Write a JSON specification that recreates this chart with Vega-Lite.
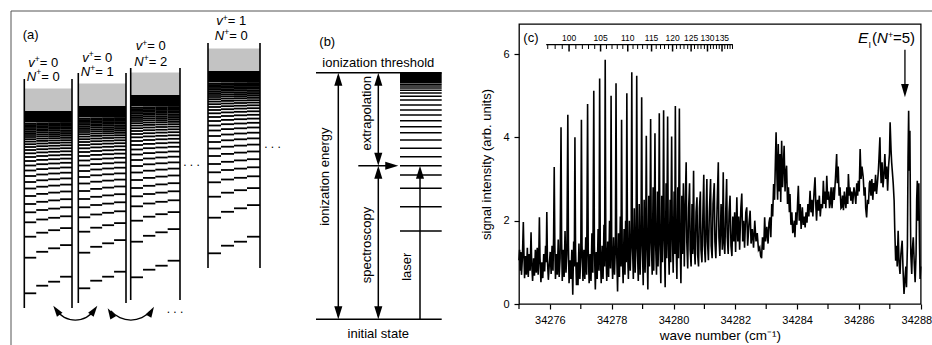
{
"$schema":"https://vega.github.io/schema/vega-lite/v6.json",
"padding":0,"background":"white","spacing":0,"bounds":"flush",
"config":{"view":{"stroke":null},"font":"Liberation Sans","text":{"font":"Liberation Sans","color":"black"}},
"datasets":{
"spec":[{"w":34275,"s":1.05},{"w":34275.02,"s":1.3},{"w":34275.04,"s":0.8},{"w":34275.06,"s":1.25},{"w":34275.08,"s":0.7},{"w":34275.11,"s":1.1},{"w":34275.14,"s":1.97},{"w":34275.16,"s":1.2},{"w":34275.18,"s":0.62},{"w":34275.21,"s":1.15},{"w":34275.24,"s":0.7},{"w":34275.27,"s":1.35},{"w":34275.3,"s":0.65},{"w":34275.33,"s":1.2},{"w":34275.36,"s":0.8},{"w":34275.39,"s":1.72},{"w":34275.41,"s":1},{"w":34275.44,"s":0.55},{"w":34275.47,"s":1.1},{"w":34275.5,"s":0.68},{"w":34275.53,"s":1.3},{"w":34275.56,"s":0.75},{"w":34275.59,"s":1.35},{"w":34275.62,"s":0.7},{"w":34275.64,"s":1.1},{"w":34275.66,"s":2.08},{"w":34275.68,"s":1.1},{"w":34275.71,"s":0.52},{"w":34275.74,"s":1},{"w":34275.77,"s":0.62},{"w":34275.8,"s":1.2},{"w":34275.83,"s":0.78},{"w":34275.86,"s":1.4},{"w":34275.88,"s":1},{"w":34275.9,"s":2.21},{"w":34275.92,"s":1.05},{"w":34275.95,"s":0.58},{"w":34275.98,"s":0.95},
{"w":34276.01,"s":1.25},{"w":34276.04,"s":0.72},{"w":34276.07,"s":1.4},{"w":34276.1,"s":0.8},{"w":34276.12,"s":1.6},{"w":34276.14,"s":3.29},{"w":34276.16,"s":1.4},{"w":34276.18,"s":0.6},{"w":34276.21,"s":1.2},{"w":34276.24,"s":0.7},{"w":34276.27,"s":1.55},{"w":34276.3,"s":0.65},{"w":34276.33,"s":1.1},{"w":34276.36,"s":4.24},{"w":34276.38,"s":1.5},{"w":34276.4,"s":0.55},{"w":34276.43,"s":1.3},{"w":34276.46,"s":0.65},{"w":34276.49,"s":1.75},{"w":34276.52,"s":0.75},{"w":34276.55,"s":1.2},{"w":34276.58,"s":4.54},{"w":34276.6,"s":1.4},{"w":34276.62,"s":0.5},{"w":34276.65,"s":1.05},{"w":34276.68,"s":0.6},{"w":34276.71,"s":1.3},{"w":34276.74,"s":0.22},{"w":34276.77,"s":1.5},{"w":34276.79,"s":0.9},{"w":34276.81,"s":4},{"w":34276.83,"s":1.3},{"w":34276.86,"s":0.45},{"w":34276.88,"s":1},{"w":34276.91,"s":0.45},{"w":34276.94,"s":1.45},{"w":34276.97,"s":0.6},
{"w":34277,"s":1.15},{"w":34277.02,"s":4.42},{"w":34277.04,"s":1.4},{"w":34277.07,"s":0.55},{"w":34277.1,"s":1.3},{"w":34277.13,"s":0.6},{"w":34277.16,"s":1.6},{"w":34277.19,"s":0.7},{"w":34277.22,"s":4.8},{"w":34277.24,"s":1.3},{"w":34277.27,"s":0.5},{"w":34277.3,"s":1.2},{"w":34277.33,"s":0.55},{"w":34277.36,"s":1.7},{"w":34277.39,"s":0.75},{"w":34277.42,"s":5.12},{"w":34277.44,"s":1.4},{"w":34277.47,"s":0.35},{"w":34277.5,"s":1.25},{"w":34277.53,"s":0.6},{"w":34277.56,"s":1.8},{"w":34277.59,"s":0.8},{"w":34277.61,"s":5.41},{"w":34277.63,"s":1.3},{"w":34277.66,"s":0.5},{"w":34277.69,"s":1.4},{"w":34277.72,"s":0.6},{"w":34277.75,"s":1.9},{"w":34277.77,"s":0.9},{"w":34277.79,"s":5.86},{"w":34277.81,"s":1.4},{"w":34277.84,"s":0.55},{"w":34277.87,"s":1.5},{"w":34277.9,"s":0.65},{"w":34277.93,"s":2},{"w":34277.96,"s":0.85},{"w":34277.98,"s":5},
{"w":34278,"s":1.4},{"w":34278.03,"s":0.6},{"w":34278.06,"s":1.6},{"w":34278.09,"s":0.7},{"w":34278.12,"s":1.4},{"w":34278.14,"s":5.3},{"w":34278.16,"s":1.3},{"w":34278.19,"s":0.3},{"w":34278.22,"s":1.7},{"w":34278.25,"s":0.65},{"w":34278.28,"s":2.1},{"w":34278.3,"s":0.9},{"w":34278.32,"s":4.42},{"w":34278.34,"s":1.3},{"w":34278.37,"s":0.5},{"w":34278.4,"s":1.8},{"w":34278.43,"s":0.7},{"w":34278.45,"s":2},{"w":34278.47,"s":1},{"w":34278.49,"s":5.06},{"w":34278.51,"s":1.4},{"w":34278.54,"s":0.6},{"w":34278.57,"s":2},{"w":34278.6,"s":0.8},{"w":34278.63,"s":1.5},{"w":34278.65,"s":5.56},{"w":34278.67,"s":1.5},{"w":34278.7,"s":0.6},{"w":34278.73,"s":2.3},{"w":34278.76,"s":0.75},{"w":34278.79,"s":1.6},{"w":34278.81,"s":5.48},{"w":34278.83,"s":1.4},{"w":34278.86,"s":0.55},{"w":34278.89,"s":2.4},{"w":34278.92,"s":0.7},{"w":34278.95,"s":1.7},{"w":34278.97,"s":4.96},{"w":34278.99,"s":1.5},
{"w":34279.02,"s":0.45},{"w":34279.05,"s":2.5},{"w":34279.08,"s":0.75},{"w":34279.1,"s":1.6},{"w":34279.12,"s":4.04},{"w":34279.14,"s":1.5},{"w":34279.17,"s":0.35},{"w":34279.2,"s":2.6},{"w":34279.22,"s":0.9},{"w":34279.24,"s":1.8},{"w":34279.26,"s":4.44},{"w":34279.28,"s":1.6},{"w":34279.31,"s":0.7},{"w":34279.34,"s":2.8},{"w":34279.36,"s":0.8},{"w":34279.38,"s":1.9},{"w":34279.4,"s":4.1},{"w":34279.42,"s":1.5},{"w":34279.45,"s":0.7},{"w":34279.48,"s":2.7},{"w":34279.5,"s":0.9},{"w":34279.52,"s":1.7},{"w":34279.54,"s":4.58},{"w":34279.56,"s":1.6},{"w":34279.59,"s":0.5},{"w":34279.62,"s":2.6},{"w":34279.64,"s":1},{"w":34279.66,"s":1.9},{"w":34279.68,"s":4.65},{"w":34279.7,"s":1.7},{"w":34279.73,"s":0.4},{"w":34279.76,"s":2.9},{"w":34279.78,"s":1.1},{"w":34279.81,"s":4.5},{"w":34279.83,"s":1.6},{"w":34279.86,"s":0.7},{"w":34279.89,"s":2.5},{"w":34279.91,"s":1},{"w":34279.94,"s":4.02},{"w":34279.96,"s":1.8},{"w":34279.99,"s":0.75},
{"w":34280.02,"s":2.7},{"w":34280.04,"s":1.2},{"w":34280.06,"s":4.75},{"w":34280.08,"s":1.6},{"w":34280.11,"s":0.6},{"w":34280.14,"s":2.8},{"w":34280.16,"s":1.1},{"w":34280.19,"s":4.69},{"w":34280.21,"s":1.7},{"w":34280.24,"s":0.5},{"w":34280.27,"s":2.6},{"w":34280.29,"s":1.2},{"w":34280.32,"s":2.9},{"w":34280.35,"s":0.9},{"w":34280.38,"s":2.4},{"w":34280.41,"s":3.4},{"w":34280.43,"s":1.5},{"w":34280.46,"s":0.85},{"w":34280.49,"s":2.3},{"w":34280.52,"s":2.9},{"w":34280.54,"s":1.3},{"w":34280.57,"s":0.9},{"w":34280.6,"s":2.4},{"w":34280.62,"s":1.2},{"w":34280.65,"s":3.2},{"w":34280.67,"s":1.4},{"w":34280.7,"s":0.95},{"w":34280.73,"s":2.2},{"w":34280.76,"s":2.56},{"w":34280.78,"s":1.2},{"w":34280.81,"s":0.9},{"w":34280.84,"s":2.3},{"w":34280.87,"s":2.7},{"w":34280.89,"s":1.3},{"w":34280.92,"s":1},{"w":34280.95,"s":2.1},{"w":34280.98,"s":3.1},
{"w":34281,"s":1.4},{"w":34281.03,"s":1},{"w":34281.06,"s":2.3},{"w":34281.08,"s":3},{"w":34281.1,"s":1.5},{"w":34281.13,"s":1.05},{"w":34281.16,"s":2.2},{"w":34281.2,"s":3},{"w":34281.22,"s":1.4},{"w":34281.25,"s":1.1},{"w":34281.28,"s":2.4},{"w":34281.32,"s":2.9},{"w":34281.34,"s":1.5},{"w":34281.37,"s":1.1},{"w":34281.41,"s":2.3},{"w":34281.45,"s":3.4},{"w":34281.47,"s":1.6},{"w":34281.5,"s":1.15},{"w":34281.54,"s":2.4},{"w":34281.58,"s":1.3},{"w":34281.61,"s":3.16},{"w":34281.63,"s":1.5},{"w":34281.66,"s":1.2},{"w":34281.69,"s":2.2},{"w":34281.72,"s":3},{"w":34281.74,"s":1.6},{"w":34281.77,"s":1.2},{"w":34281.8,"s":2.2},{"w":34281.83,"s":2.6},{"w":34281.86,"s":1.4},{"w":34281.89,"s":1.15},{"w":34281.92,"s":2.1},{"w":34281.95,"s":1.5},{"w":34281.98,"s":2.2},
{"w":34282.01,"s":1.25},{"w":34282.05,"s":2.56},{"w":34282.08,"s":1.5},{"w":34282.11,"s":2.1},{"w":34282.14,"s":1.3},{"w":34282.18,"s":2.3},{"w":34282.21,"s":2.65},{"w":34282.24,"s":1.5},{"w":34282.27,"s":2},{"w":34282.3,"s":1.35},{"w":34282.34,"s":2.2},{"w":34282.37,"s":2.32},{"w":34282.4,"s":1.4},{"w":34282.44,"s":1.9},{"w":34282.48,"s":2.24},{"w":34282.51,"s":1.45},{"w":34282.55,"s":1.8},{"w":34282.59,"s":1.35},{"w":34282.63,"s":2},{"w":34282.67,"s":1.5},{"w":34282.71,"s":1.7},{"w":34282.75,"s":1.3},{"w":34282.79,"s":1.36},{"w":34282.82,"s":1.15},{"w":34282.85,"s":1.1},{"w":34282.88,"s":1.6},{"w":34282.92,"s":1.3},{"w":34282.95,"s":2.08},{"w":34282.98,"s":1.5},
{"w":34283.02,"s":1.85},{"w":34283.06,"s":1.45},{"w":34283.09,"s":1.95},{"w":34283.12,"s":2.08},{"w":34283.15,"s":1.6},{"w":34283.18,"s":2.4},{"w":34283.21,"s":2.1},{"w":34283.24,"s":2.88},{"w":34283.27,"s":2.5},{"w":34283.3,"s":3.5},{"w":34283.32,"s":4.12},{"w":34283.35,"s":3},{"w":34283.37,"s":2.5},{"w":34283.39,"s":3.84},{"w":34283.42,"s":2.7},{"w":34283.45,"s":3.6},{"w":34283.47,"s":2.45},{"w":34283.5,"s":3.92},{"w":34283.53,"s":2.8},{"w":34283.56,"s":3.4},{"w":34283.58,"s":3.8},{"w":34283.61,"s":2.7},{"w":34283.63,"s":3.1},{"w":34283.66,"s":3.32},{"w":34283.69,"s":2.4},{"w":34283.72,"s":2.8},{"w":34283.75,"s":2.2},{"w":34283.77,"s":2.64},{"w":34283.8,"s":1.9},{"w":34283.83,"s":2.2},{"w":34283.86,"s":1.7},{"w":34283.88,"s":1.76},{"w":34283.91,"s":2},{"w":34283.93,"s":1.6},{"w":34283.96,"s":2.2},{"w":34283.99,"s":1.9},
{"w":34284.02,"s":2.5},{"w":34284.04,"s":2.84},{"w":34284.07,"s":2},{"w":34284.1,"s":2.4},{"w":34284.13,"s":1.8},{"w":34284.17,"s":2.32},{"w":34284.2,"s":1.9},{"w":34284.23,"s":2.1},{"w":34284.26,"s":1.84},{"w":34284.29,"s":2.2},{"w":34284.32,"s":1.95},{"w":34284.35,"s":2.4},{"w":34284.38,"s":2.1},{"w":34284.42,"s":2.72},{"w":34284.45,"s":2.2},{"w":34284.48,"s":2.5},{"w":34284.51,"s":2.1},{"w":34284.55,"s":2.7},{"w":34284.58,"s":3.04},{"w":34284.61,"s":2.3},{"w":34284.63,"s":2},{"w":34284.66,"s":2.5},{"w":34284.69,"s":2.24},{"w":34284.72,"s":2.6},{"w":34284.75,"s":2.1},{"w":34284.78,"s":2.4},{"w":34284.82,"s":2.3},{"w":34284.85,"s":2.96},{"w":34284.88,"s":2.4},{"w":34284.91,"s":2.7},{"w":34284.93,"s":2.3},{"w":34284.96,"s":3.08},{"w":34284.99,"s":2.5},
{"w":34285.02,"s":2.7},{"w":34285.05,"s":2.3},{"w":34285.07,"s":2.4},{"w":34285.1,"s":2.8},{"w":34285.13,"s":2.3},{"w":34285.17,"s":2.8},{"w":34285.2,"s":2.5},{"w":34285.24,"s":3},{"w":34285.28,"s":3.6},{"w":34285.3,"s":2.9},{"w":34285.33,"s":3.3},{"w":34285.36,"s":2.6},{"w":34285.39,"s":2.8},{"w":34285.42,"s":2.3},{"w":34285.44,"s":2.32},{"w":34285.47,"s":2.6},{"w":34285.5,"s":2.25},{"w":34285.53,"s":2.7},{"w":34285.55,"s":2.5},{"w":34285.58,"s":2.3},{"w":34285.61,"s":2.8},{"w":34285.64,"s":2.4},{"w":34285.66,"s":3.12},{"w":34285.69,"s":2.6},{"w":34285.71,"s":2.8},{"w":34285.74,"s":2.48},{"w":34285.77,"s":2.7},{"w":34285.8,"s":2.4},{"w":34285.84,"s":2.8},{"w":34285.87,"s":2.64},{"w":34285.9,"s":2.4},{"w":34285.93,"s":2.9},{"w":34285.96,"s":2.6},{"w":34285.98,"s":2.96},
{"w":34286.01,"s":2.7},{"w":34286.04,"s":3.72},{"w":34286.07,"s":3},{"w":34286.1,"s":3.3},{"w":34286.14,"s":3.04},{"w":34286.17,"s":2.6},{"w":34286.2,"s":2.8},{"w":34286.22,"s":2.3},{"w":34286.25,"s":2.08},{"w":34286.28,"s":2.5},{"w":34286.31,"s":2.4},{"w":34286.34,"s":2.9},{"w":34286.36,"s":2.96},{"w":34286.39,"s":2.6},{"w":34286.42,"s":3},{"w":34286.45,"s":2.5},{"w":34286.48,"s":2.9},{"w":34286.51,"s":2.7},{"w":34286.54,"s":3.1},{"w":34286.57,"s":2.64},{"w":34286.6,"s":2.9},{"w":34286.63,"s":3.2},{"w":34286.65,"s":3.5},{"w":34286.68,"s":4},{"w":34286.7,"s":3.28},{"w":34286.72,"s":2.9},{"w":34286.75,"s":3.4},{"w":34286.78,"s":2.8},{"w":34286.81,"s":3.1},{"w":34286.84,"s":3.6},{"w":34286.87,"s":3},{"w":34286.9,"s":3.3},{"w":34286.93,"s":2.72},{"w":34286.96,"s":3.3},{"w":34286.99,"s":3.6},
{"w":34287.01,"s":4.36},{"w":34287.04,"s":3.7},{"w":34287.06,"s":3.4},{"w":34287.08,"s":3.2},{"w":34287.11,"s":2.9},{"w":34287.14,"s":2.48},{"w":34287.16,"s":1.8},{"w":34287.19,"s":1.04},{"w":34287.22,"s":1.4},{"w":34287.24,"s":0.9},{"w":34287.27,"s":1.76},{"w":34287.3,"s":1},{"w":34287.33,"s":0.72},{"w":34287.36,"s":1.2},{"w":34287.4,"s":1.52},{"w":34287.43,"s":0.8},{"w":34287.46,"s":0.24},{"w":34287.49,"s":0.6},{"w":34287.52,"s":0.9},{"w":34287.54,"s":0.4},{"w":34287.57,"s":1.4},{"w":34287.59,"s":3.5},{"w":34287.61,"s":4.64},{"w":34287.63,"s":3.2},{"w":34287.65,"s":4.16},{"w":34287.67,"s":2},{"w":34287.68,"s":1.2},{"w":34287.71,"s":0.72},{"w":34287.73,"s":1.3},{"w":34287.76,"s":1.6},{"w":34287.79,"s":1},{"w":34287.82,"s":0.52},{"w":34287.85,"s":1.2},{"w":34287.87,"s":2.5},{"w":34287.89,"s":2.96},{"w":34287.91,"s":2},{"w":34287.94,"s":2.9},{"w":34287.96,"s":1.5},{"w":34287.98,"s":0.6},{"w":34288,"s":0.9}],
"odd":[{"w":34275},{"w":34277},{"w":34279},{"w":34281},{"w":34283},{"w":34285},{"w":34287}],
"nsc":[{"n":97,"w":34275.93},{"n":98,"w":34276.17},{"n":99,"w":34276.4},{"n":100,"w":34276.62},{"n":101,"w":34276.84},{"n":102,"w":34277.05},{"n":103,"w":34277.25},{"n":104,"w":34277.45},{"n":105,"w":34277.64},{"n":106,"w":34277.83},{"n":107,"w":34278.01},{"n":108,"w":34278.18},{"n":109,"w":34278.36},{"n":110,"w":34278.52},{"n":111,"w":34278.69},{"n":112,"w":34278.84},{"n":113,"w":34279},{"n":114,"w":34279.15},{"n":115,"w":34279.29},{"n":116,"w":34279.44},{"n":117,"w":34279.58},{"n":118,"w":34279.71},{"n":119,"w":34279.84},{"n":120,"w":34279.97},{"n":121,"w":34280.1},{"n":122,"w":34280.22},{"n":123,"w":34280.34},{"n":124,"w":34280.46},{"n":125,"w":34280.57},{"n":126,"w":34280.68},{"n":127,"w":34280.79},{"n":128,"w":34280.89},{"n":129,"w":34281},{"n":130,"w":34281.1},{"n":131,"w":34281.2},{"n":132,"w":34281.29},{"n":133,"w":34281.39},{"n":134,"w":34281.48},{"n":135,"w":34281.57},{"n":136,"w":34281.66},{"n":137,"w":34281.75},{"n":138,"w":34281.83},{"n":139,"w":34281.91}],
"lev":[{"b1":182.3,"b2":174.7,"b3":170.7,"b4":165.7},{"b1":146.7,"b2":140.8,"b3":137.3,"b4":134.1},{"b1":125.7,"b2":121.7,"b3":119.2,"b4":117.1},{"b1":111.3,"b2":108.5,"b3":106.8,"b4":105.3},{"b1":101.3,"b2":99,"b3":97.6,"b4":96.3},{"b1":93,"b2":90.8,"b3":89.4,"b4":88.2},{"b1":85,"b2":82.9,"b3":81.6,"b4":80.5},{"b1":77.5,"b2":75.7,"b3":74.6,"b4":73.6},{"b1":71,"b2":69.3,"b3":68.3,"b4":67.4},{"b1":65,"b2":63.5,"b3":62.5,"b4":61.7},{"b1":59.5,"b2":58.1,"b3":57.3,"b4":56.5},{"b1":54.5,"b2":53.2,"b3":52.5,"b4":51.8},{"b1":50,"b2":48.9,"b3":48.2,"b4":47.6},{"b1":46,"b2":45,"b3":44.3,"b4":43.8},{"b1":42.3,"b2":41.4,"b3":40.8,"b4":40.3},{"b1":39,"b2":38.2,"b3":37.6,"b4":37.2},{"b1":36,"b2":35.2,"b3":34.7,"b4":34.3},{"b1":33.2,"b2":32.5,"b3":32,"b4":31.6},{"b1":30.6,"b2":29.9,"b3":29.5,"b4":29.2},{"b1":28.2,"b2":27.6,"b3":27.2,"b4":26.9},{"b1":26,"b2":25.4,"b3":25.1,"b4":24.8},{"b1":24,"b2":23.5,"b3":23.1,"b4":22.9},{"b1":22.1,"b2":21.6,"b3":21.3,"b4":21},{"b1":20.3,"b2":19.8,"b3":19.5,"b4":19.3},{"b1":18.6,"b2":18.2,"b3":17.9,"b4":17.6},{"b1":17,"b2":16.6,"b3":16.3,"b4":16.1},{"b1":15.5,"b2":15.1,"b3":14.9,"b4":14.7},{"b1":14.1,"b2":13.7,"b3":13.5,"b4":13.3},{"b1":12.8,"b2":12.5,"b3":12.3,"b4":12.1}],
"blev":[{"E":231},{"E":206.7},{"E":188.3},{"E":175},{"E":165.7},{"E":156.7},{"E":148.3},{"E":140},{"E":132.7},{"E":126.7},{"E":120.7},{"E":115},{"E":110},{"E":105},{"E":100},{"E":96.2},{"E":93},{"E":90.3},{"E":88},{"E":86},{"E":84.3}]
},
"hconcat":[
{"width":519,"height":345,
 "resolve":{"scale":{"x":"independent","y":"independent"}},
 "layer":[
  {"layer":[
   {"data":{"values":[{"x":11,"x2":932,"y":11,"y2":11},{"x":11,"x2":11,"y":11,"y2":345}]},"mark":{"type":"rule","color":"#555555","strokeWidth":1},
    "encoding":{"x":{"field":"x","type":"quantitative","scale":{"domain":[0,519]},"axis":null},"x2":{"field":"x2"},"y":{"field":"y","type":"quantitative","scale":{"domain":[0,345],"reverse":true},"axis":null},"y2":{"field":"y2"}}},
   {"data":{"values":[{"x":316,"x2":441.7,"y":72.7,"y2":72.7},{"x":316,"x2":441.7,"y":319.3,"y2":319.3},{"x":338.3,"x2":338.3,"y":76,"y2":316},{"x":378.3,"x2":378.3,"y":76,"y2":162},{"x":378.3,"x2":378.3,"y":169,"y2":316},{"x":358.3,"x2":394,"y":165.7,"y2":165.7},{"x":420,"x2":420,"y":169,"y2":319.3}]},"mark":{"type":"rule","color":"black","strokeWidth":1.5},
    "encoding":{"x":{"field":"x","type":"quantitative","scale":{"domain":[0,519]},"axis":null},"x2":{"field":"x2"},"y":{"field":"y","type":"quantitative","scale":{"domain":[0,345],"reverse":true},"axis":null},"y2":{"field":"y2"}}},
   {"data":{"name":"blev"},"mark":{"type":"rule","color":"black","strokeWidth":1.5},
    "encoding":{"x":{"datum":400,"type":"quantitative","scale":{"domain":[0,519]},"axis":null},"x2":{"datum":441.7},"y":{"field":"E","type":"quantitative","scale":{"domain":[0,345],"reverse":true},"axis":null}}},
   {"data":{"values":[{}]},"mark":{"type":"rect","color":"black"},
    "encoding":{"x":{"datum":400,"type":"quantitative","scale":{"domain":[0,519]},"axis":null},"x2":{"datum":441.7},"y":{"datum":72.7,"type":"quantitative","scale":{"domain":[0,345],"reverse":true},"axis":null},"y2":{"datum":83.2}}},
   {"data":{"values":[{"x":338.3,"y":79.2,"a":0},{"x":338.3,"y":312.8,"a":180},{"x":378.3,"y":79.2,"a":0},{"x":378.3,"y":159.2,"a":180},{"x":378.3,"y":172.2,"a":0},{"x":378.3,"y":312.8,"a":180},{"x":420,"y":172.2,"a":0},{"x":391.8,"y":165.7,"a":90}]},
    "mark":{"type":"point","shape":"M-0.62,1L0.62,1L0,-1Z","filled":true,"size":170,"color":"black","opacity":1},
    "encoding":{"x":{"field":"x","type":"quantitative","scale":{"domain":[0,519]},"axis":null},"y":{"field":"y","type":"quantitative","scale":{"domain":[0,345],"reverse":true},"axis":null},"angle":{"field":"a","type":"quantitative","scale":null}}},
   {"data":{"values":[{"x":56.5,"y":310.2,"a":324},{"x":94.1,"y":310.2,"a":36},{"x":110.5,"y":313,"a":329.4},{"x":151.2,"y":311.4,"a":30.6}]},
    "mark":{"type":"point","shape":"M-0.62,1L0.62,1L0,-1Z","filled":true,"size":121,"color":"black","opacity":1},
    "encoding":{"x":{"field":"x","type":"quantitative","scale":{"domain":[0,519]},"axis":null},"y":{"field":"y","type":"quantitative","scale":{"domain":[0,345],"reverse":true},"axis":null},"angle":{"field":"a","type":"quantitative","scale":null}}},
   {"data":{"values":[{}]},"mark":{"type":"arc","theta":2.164,"theta2":4.119,"radius":24.1,"radius2":22.8,"color":"black"},
    "encoding":{"x":{"datum":75.3,"type":"quantitative","scale":{"domain":[0,519]},"axis":null},"y":{"datum":296.6,"type":"quantitative","scale":{"domain":[0,345],"reverse":true},"axis":null}}},
   {"data":{"values":[{}]},"mark":{"type":"arc","theta":2.279,"theta2":4.004,"radius":26.9,"radius2":25.6,"color":"black"},
    "encoding":{"x":{"datum":130.85,"type":"quantitative","scale":{"domain":[0,519]},"axis":null},"y":{"datum":293.8,"type":"quantitative","scale":{"domain":[0,345],"reverse":true},"axis":null}}},
   {"data":{"values":[{"x":22.7,"y":38.5,"t":"(a)"},{"x":319.3,"y":45.5,"t":"(b)"}]},"mark":{"type":"text","fontSize":13,"align":"left","baseline":"alphabetic","font":"Liberation Sans","color":"black"},
    "encoding":{"x":{"field":"x","type":"quantitative","scale":{"domain":[0,519]},"axis":null},"y":{"field":"y","type":"quantitative","scale":{"domain":[0,345],"reverse":true},"axis":null},"text":{"field":"t"}}},
   {"data":{"values":[{"x":28.3,"y":66.7,"t":"v"},{"x":26.8,"y":80.7,"t":"N"},{"x":82.3,"y":61.7,"t":"v"},{"x":80.8,"y":76,"t":"N"},{"x":135.8,"y":50,"t":"v"},{"x":134.3,"y":66,"t":"N"},{"x":216.3,"y":25,"t":"v"},{"x":214.8,"y":40,"t":"N"}]},"mark":{"type":"text","fontSize":13,"fontStyle":"italic","align":"left","baseline":"alphabetic","font":"Liberation Sans","color":"black"},
    "encoding":{"x":{"field":"x","type":"quantitative","scale":{"domain":[0,519]},"axis":null},"y":{"field":"y","type":"quantitative","scale":{"domain":[0,345],"reverse":true},"axis":null},"text":{"field":"t"}}},
   {"data":{"values":[{"x":34.8,"y":62.2},{"x":36.2,"y":75.2},{"x":88.8,"y":57.2},{"x":90.2,"y":70.5},{"x":142.3,"y":45.5},{"x":143.7,"y":60.5},{"x":222.8,"y":20.5},{"x":224.2,"y":34.5}]},"mark":{"type":"text","fontSize":8.5,"text":"+","align":"left","baseline":"alphabetic","font":"Liberation Sans","color":"black"},
    "encoding":{"x":{"field":"x","type":"quantitative","scale":{"domain":[0,519]},"axis":null},"y":{"field":"y","type":"quantitative","scale":{"domain":[0,345],"reverse":true},"axis":null}}},
   {"data":{"values":[{"x":39.8,"y":66.7,"t":" = 0"},{"x":41.2,"y":80.7,"t":" = 0"},{"x":93.8,"y":61.7,"t":" = 0"},{"x":95.2,"y":76,"t":" = 1"},{"x":147.3,"y":50,"t":" = 0"},{"x":148.7,"y":66,"t":" = 2"},{"x":227.8,"y":25,"t":" = 1"},{"x":229.2,"y":40,"t":" = 0"}]},"mark":{"type":"text","fontSize":13,"align":"left","baseline":"alphabetic","font":"Liberation Sans","color":"black"},
    "encoding":{"x":{"field":"x","type":"quantitative","scale":{"domain":[0,519]},"axis":null},"y":{"field":"y","type":"quantitative","scale":{"domain":[0,345],"reverse":true},"axis":null},"text":{"field":"t"}}},
   {"data":{"values":[{"x":378.3,"y":66.5,"t":"ionization threshold"},{"x":378.3,"y":337.5,"t":"initial state"}]},"mark":{"type":"text","fontSize":13,"align":"center","baseline":"alphabetic","font":"Liberation Sans","color":"black"},
    "encoding":{"x":{"field":"x","type":"quantitative","scale":{"domain":[0,519]},"axis":null},"y":{"field":"y","type":"quantitative","scale":{"domain":[0,345],"reverse":true},"axis":null},"text":{"field":"t"}}},
   {"data":{"values":[{"x":191.5,"y":166},{"x":272.5,"y":147.7},{"x":175,"y":312.7}]},"mark":{"type":"text","fontSize":12,"text":". . .","align":"center","baseline":"alphabetic","font":"Liberation Sans","color":"black"},
    "encoding":{"x":{"field":"x","type":"quantitative","scale":{"domain":[0,519]},"axis":null},"y":{"field":"y","type":"quantitative","scale":{"domain":[0,345],"reverse":true},"axis":null}}},
   {"data":{"values":[{"x":325,"y":176.7,"t":"ionization energy"},{"x":366.7,"y":113.3,"t":"extrapolation"},{"x":366.7,"y":245,"t":"spectroscopy"},{"x":407.3,"y":266.7,"t":"laser"}]},"mark":{"type":"text","fontSize":13,"angle":270,"align":"center","baseline":"middle","font":"Liberation Sans","color":"black"},
    "encoding":{"x":{"field":"x","type":"quantitative","scale":{"domain":[0,519]},"axis":null},"y":{"field":"y","type":"quantitative","scale":{"domain":[0,345],"reverse":true},"axis":null},"text":{"field":"t"}}}
  ]},
  {"layer":[
   {"data":{"values":[{}]},"mark":{"type":"rect","color":"#c3c3c3"},"encoding":{"x":{"datum":0,"type":"quantitative","scale":{"domain":[-2.038,41.484]},"axis":null},"x2":{"datum":4},"y":{"datum":-22.5,"type":"quantitative","scale":{"domain":[-111,234],"reverse":true},"axis":null},"y2":{"datum":0}}},
   {"data":{"values":[{}]},"mark":{"type":"rect","color":"black"},"encoding":{"x":{"datum":0,"type":"quantitative","scale":{"domain":[-2.038,41.484]},"axis":null},"x2":{"datum":4},"y":{"datum":0,"type":"quantitative","scale":{"domain":[-111,234],"reverse":true},"axis":null},"y2":{"datum":11.5}}},
   {"data":{"values":[{}]},"mark":{"type":"rule","color":"black","strokeWidth":1.6},"encoding":{"x":{"datum":0,"type":"quantitative","scale":{"domain":[-2.038,41.484]},"axis":null},"y":{"datum":-32,"type":"quantitative","scale":{"domain":[-111,234],"reverse":true},"axis":null},"y2":{"datum":197}}},
   {"data":{"values":[{}]},"mark":{"type":"rule","color":"black","strokeWidth":1.6},"encoding":{"x":{"datum":4,"type":"quantitative","scale":{"domain":[-2.038,41.484]},"axis":null},"y":{"datum":-32,"type":"quantitative","scale":{"domain":[-111,234],"reverse":true},"axis":null},"y2":{"datum":197}}},
   {"data":{"name":"lev"},"mark":{"type":"rule","color":"black","strokeWidth":1.8},"encoding":{"x":{"datum":0,"type":"quantitative","scale":{"domain":[-2.038,41.484]},"axis":null},"x2":{"datum":1},"y":{"field":"b1","type":"quantitative","scale":{"domain":[-111,234],"reverse":true},"axis":null}}},
   {"data":{"name":"lev"},"mark":{"type":"rule","color":"black","strokeWidth":1.8},"encoding":{"x":{"datum":1,"type":"quantitative","scale":{"domain":[-2.038,41.484]},"axis":null},"x2":{"datum":2},"y":{"field":"b2","type":"quantitative","scale":{"domain":[-111,234],"reverse":true},"axis":null}}},
   {"data":{"name":"lev"},"mark":{"type":"rule","color":"black","strokeWidth":1.8},"encoding":{"x":{"datum":2,"type":"quantitative","scale":{"domain":[-2.038,41.484]},"axis":null},"x2":{"datum":3},"y":{"field":"b3","type":"quantitative","scale":{"domain":[-111,234],"reverse":true},"axis":null}}},
   {"data":{"name":"lev"},"mark":{"type":"rule","color":"black","strokeWidth":1.8},"encoding":{"x":{"datum":3,"type":"quantitative","scale":{"domain":[-2.038,41.484]},"axis":null},"x2":{"datum":4},"y":{"field":"b4","type":"quantitative","scale":{"domain":[-111,234],"reverse":true},"axis":null}}}
  ]},
  {"layer":[
   {"data":{"values":[{}]},"mark":{"type":"rect","color":"#c3c3c3"},"encoding":{"x":{"datum":0,"type":"quantitative","scale":{"domain":[-6.566,36.956]},"axis":null},"x2":{"datum":4},"y":{"datum":-22.5,"type":"quantitative","scale":{"domain":[-106,239],"reverse":true},"axis":null},"y2":{"datum":0}}},
   {"data":{"values":[{}]},"mark":{"type":"rect","color":"black"},"encoding":{"x":{"datum":0,"type":"quantitative","scale":{"domain":[-6.566,36.956]},"axis":null},"x2":{"datum":4},"y":{"datum":0,"type":"quantitative","scale":{"domain":[-106,239],"reverse":true},"axis":null},"y2":{"datum":11.5}}},
   {"data":{"values":[{}]},"mark":{"type":"rule","color":"black","strokeWidth":1.6},"encoding":{"x":{"datum":0,"type":"quantitative","scale":{"domain":[-6.566,36.956]},"axis":null},"y":{"datum":-33,"type":"quantitative","scale":{"domain":[-106,239],"reverse":true},"axis":null},"y2":{"datum":197}}},
   {"data":{"values":[{}]},"mark":{"type":"rule","color":"black","strokeWidth":1.6},"encoding":{"x":{"datum":4,"type":"quantitative","scale":{"domain":[-6.566,36.956]},"axis":null},"y":{"datum":-33,"type":"quantitative","scale":{"domain":[-106,239],"reverse":true},"axis":null},"y2":{"datum":197}}},
   {"data":{"name":"lev"},"mark":{"type":"rule","color":"black","strokeWidth":1.8},"encoding":{"x":{"datum":0,"type":"quantitative","scale":{"domain":[-6.566,36.956]},"axis":null},"x2":{"datum":1},"y":{"field":"b1","type":"quantitative","scale":{"domain":[-106,239],"reverse":true},"axis":null}}},
   {"data":{"name":"lev"},"mark":{"type":"rule","color":"black","strokeWidth":1.8},"encoding":{"x":{"datum":1,"type":"quantitative","scale":{"domain":[-6.566,36.956]},"axis":null},"x2":{"datum":2},"y":{"field":"b2","type":"quantitative","scale":{"domain":[-106,239],"reverse":true},"axis":null}}},
   {"data":{"name":"lev"},"mark":{"type":"rule","color":"black","strokeWidth":1.8},"encoding":{"x":{"datum":2,"type":"quantitative","scale":{"domain":[-6.566,36.956]},"axis":null},"x2":{"datum":3},"y":{"field":"b3","type":"quantitative","scale":{"domain":[-106,239],"reverse":true},"axis":null}}},
   {"data":{"name":"lev"},"mark":{"type":"rule","color":"black","strokeWidth":1.8},"encoding":{"x":{"datum":3,"type":"quantitative","scale":{"domain":[-6.566,36.956]},"axis":null},"x2":{"datum":4},"y":{"field":"b4","type":"quantitative","scale":{"domain":[-106,239],"reverse":true},"axis":null}}}
  ]},
  {"layer":[
   {"data":{"values":[{}]},"mark":{"type":"rect","color":"#c3c3c3"},"encoding":{"x":{"datum":0,"type":"quantitative","scale":{"domain":[-10.604,31.505]},"axis":null},"x2":{"datum":4},"y":{"datum":-22.5,"type":"quantitative","scale":{"domain":[-95,250],"reverse":true},"axis":null},"y2":{"datum":0}}},
   {"data":{"values":[{}]},"mark":{"type":"rect","color":"black"},"encoding":{"x":{"datum":0,"type":"quantitative","scale":{"domain":[-10.604,31.505]},"axis":null},"x2":{"datum":4},"y":{"datum":0,"type":"quantitative","scale":{"domain":[-95,250],"reverse":true},"axis":null},"y2":{"datum":11.5}}},
   {"data":{"values":[{}]},"mark":{"type":"rule","color":"black","strokeWidth":1.6},"encoding":{"x":{"datum":0,"type":"quantitative","scale":{"domain":[-10.604,31.505]},"axis":null},"y":{"datum":-27,"type":"quantitative","scale":{"domain":[-95,250],"reverse":true},"axis":null},"y2":{"datum":205}}},
   {"data":{"values":[{}]},"mark":{"type":"rule","color":"black","strokeWidth":1.6},"encoding":{"x":{"datum":4,"type":"quantitative","scale":{"domain":[-10.604,31.505]},"axis":null},"y":{"datum":-27,"type":"quantitative","scale":{"domain":[-95,250],"reverse":true},"axis":null},"y2":{"datum":205}}},
   {"data":{"name":"lev"},"mark":{"type":"rule","color":"black","strokeWidth":1.8},"encoding":{"x":{"datum":0,"type":"quantitative","scale":{"domain":[-10.604,31.505]},"axis":null},"x2":{"datum":1},"y":{"field":"b1","type":"quantitative","scale":{"domain":[-95,250],"reverse":true},"axis":null}}},
   {"data":{"name":"lev"},"mark":{"type":"rule","color":"black","strokeWidth":1.8},"encoding":{"x":{"datum":1,"type":"quantitative","scale":{"domain":[-10.604,31.505]},"axis":null},"x2":{"datum":2},"y":{"field":"b2","type":"quantitative","scale":{"domain":[-95,250],"reverse":true},"axis":null}}},
   {"data":{"name":"lev"},"mark":{"type":"rule","color":"black","strokeWidth":1.8},"encoding":{"x":{"datum":2,"type":"quantitative","scale":{"domain":[-10.604,31.505]},"axis":null},"x2":{"datum":3},"y":{"field":"b3","type":"quantitative","scale":{"domain":[-95,250],"reverse":true},"axis":null}}},
   {"data":{"name":"lev"},"mark":{"type":"rule","color":"black","strokeWidth":1.8},"encoding":{"x":{"datum":3,"type":"quantitative","scale":{"domain":[-10.604,31.505]},"axis":null},"x2":{"datum":4},"y":{"field":"b4","type":"quantitative","scale":{"domain":[-95,250],"reverse":true},"axis":null}}}
  ]},
  {"layer":[
   {"data":{"values":[{}]},"mark":{"type":"rect","color":"#c3c3c3"},"encoding":{"x":{"datum":0,"type":"quantitative","scale":{"domain":[-16,23.923]},"axis":null},"x2":{"datum":4},"y":{"datum":-22.5,"type":"quantitative","scale":{"domain":[-71,274],"reverse":true},"axis":null},"y2":{"datum":0}}},
   {"data":{"values":[{}]},"mark":{"type":"rect","color":"black"},"encoding":{"x":{"datum":0,"type":"quantitative","scale":{"domain":[-16,23.923]},"axis":null},"x2":{"datum":4},"y":{"datum":0,"type":"quantitative","scale":{"domain":[-71,274],"reverse":true},"axis":null},"y2":{"datum":11.5}}},
   {"data":{"values":[{}]},"mark":{"type":"rule","color":"black","strokeWidth":1.6},"encoding":{"x":{"datum":0,"type":"quantitative","scale":{"domain":[-16,23.923]},"axis":null},"y":{"datum":-28,"type":"quantitative","scale":{"domain":[-71,274],"reverse":true},"axis":null},"y2":{"datum":197}}},
   {"data":{"values":[{}]},"mark":{"type":"rule","color":"black","strokeWidth":1.6},"encoding":{"x":{"datum":4,"type":"quantitative","scale":{"domain":[-16,23.923]},"axis":null},"y":{"datum":-28,"type":"quantitative","scale":{"domain":[-71,274],"reverse":true},"axis":null},"y2":{"datum":197}}},
   {"data":{"name":"lev"},"mark":{"type":"rule","color":"black","strokeWidth":1.8},"encoding":{"x":{"datum":0,"type":"quantitative","scale":{"domain":[-16,23.923]},"axis":null},"x2":{"datum":1},"y":{"field":"b1","type":"quantitative","scale":{"domain":[-71,274],"reverse":true},"axis":null}}},
   {"data":{"name":"lev"},"mark":{"type":"rule","color":"black","strokeWidth":1.8},"encoding":{"x":{"datum":1,"type":"quantitative","scale":{"domain":[-16,23.923]},"axis":null},"x2":{"datum":2},"y":{"field":"b2","type":"quantitative","scale":{"domain":[-71,274],"reverse":true},"axis":null}}},
   {"data":{"name":"lev"},"mark":{"type":"rule","color":"black","strokeWidth":1.8},"encoding":{"x":{"datum":2,"type":"quantitative","scale":{"domain":[-16,23.923]},"axis":null},"x2":{"datum":3},"y":{"field":"b3","type":"quantitative","scale":{"domain":[-71,274],"reverse":true},"axis":null}}},
   {"data":{"name":"lev"},"mark":{"type":"rule","color":"black","strokeWidth":1.8},"encoding":{"x":{"datum":3,"type":"quantitative","scale":{"domain":[-16,23.923]},"axis":null},"x2":{"datum":4},"y":{"field":"b4","type":"quantitative","scale":{"domain":[-71,274],"reverse":true},"axis":null}}}
  ]}
 ]
},
{"vconcat":[
  {"width":401.7,"height":23.3,"data":{"values":[{}]},"mark":{"type":"text","text":""}},
  {"width":401.7,"height":280,"view":{"stroke":"black","strokeWidth":1.3},
   "layer":[
    {"data":{"name":"spec"},"mark":{"type":"line","color":"black","strokeWidth":1.6},
     "encoding":{
      "x":{"field":"w","type":"quantitative","scale":{"domain":[34275,34288],"nice":false,"zero":false},
       "axis":{"values":[34276,34278,34280,34282,34284,34286,34288],"format":"d","labelOverlap":false,"labelFlush":true,"labelFlushOffset":11,"tickSize":5,"tickColor":"black","tickWidth":1.2,"domain":false,"grid":false,"labelFont":"Liberation Sans","labelFontSize":11,"labelColor":"black","labelPadding":5,"title":"wave number (cm⁻¹)","titleFont":"Liberation Sans","titleFontSize":13.5,"titleFontWeight":"normal","titleColor":"black","titlePadding":3}},
      "y":{"field":"s","type":"quantitative","scale":{"domain":[0,6.72],"nice":false,"zero":false},
       "axis":{"values":[0,2,4,6],"tickSize":5,"tickColor":"black","tickWidth":1.2,"domain":false,"grid":false,"labelFont":"Liberation Sans","labelFontSize":11,"labelColor":"black","labelPadding":5,"title":"signal intensity (arb. units)","titleFont":"Liberation Sans","titleFontSize":13,"titleFontWeight":"normal","titleColor":"black","titlePadding":9}}}},
    {"data":{"name":"odd"},"mark":{"type":"rule","color":"black","strokeWidth":1.2},
     "encoding":{"x":{"field":"w","type":"quantitative"},"y":{"datum":0},"y2":{"datum":-0.12}}},
    {"data":{"values":[{}]},"mark":{"type":"rule","color":"black","strokeWidth":1.3},
     "encoding":{"x":{"datum":34275.88},"x2":{"datum":34281.92},"y":{"datum":6.223}}},
    {"data":{"name":"nsc"},"transform":[{"filter":"datum.n % 5 != 0"}],"mark":{"type":"rule","color":"black","strokeWidth":1},
     "encoding":{"x":{"field":"w","type":"quantitative"},"y":{"datum":6.223},"y2":{"datum":6.12}}},
    {"data":{"name":"nsc"},"transform":[{"filter":"datum.n % 5 == 0"}],"mark":{"type":"rule","color":"black","strokeWidth":1.5},
     "encoding":{"x":{"field":"w","type":"quantitative"},"y":{"datum":6.223},"y2":{"datum":6.06}}},
    {"data":{"name":"nsc"},"transform":[{"filter":"datum.n % 5 == 0"}],"mark":{"type":"text","fontSize":8.5,"align":"center","baseline":"alphabetic","font":"Liberation Sans","color":"black"},
     "encoding":{"x":{"field":"w","type":"quantitative"},"y":{"datum":6.31},"text":{"field":"n","type":"quantitative"}}},
    {"data":{"values":[{}]},"mark":{"type":"text","text":"(c)","fontSize":13,"align":"left","baseline":"alphabetic","font":"Liberation Sans","color":"black"},
     "encoding":{"x":{"datum":34275.14},"y":{"datum":6.3}}},
    {"data":{"values":[{}]},"mark":{"type":"text","text":"E","fontSize":15.5,"fontStyle":"italic","align":"left","baseline":"alphabetic","font":"Liberation Sans","color":"black"},
     "encoding":{"x":{"datum":34285.971},"y":{"datum":6.254}}},
    {"data":{"values":[{}]},"mark":{"type":"text","text":"I","fontSize":9,"align":"left","baseline":"alphabetic","font":"Liberation Sans","color":"black"},
     "encoding":{"x":{"datum":34286.311},"y":{"datum":6.151}}},
    {"data":{"values":[{}]},"mark":{"type":"text","text":"(","fontSize":15,"align":"left","baseline":"alphabetic","font":"Liberation Sans","color":"black"},
     "encoding":{"x":{"datum":34286.424},"y":{"datum":6.254}}},
    {"data":{"values":[{}]},"mark":{"type":"text","text":"N","fontSize":15,"fontStyle":"italic","align":"left","baseline":"alphabetic","font":"Liberation Sans","color":"black"},
     "encoding":{"x":{"datum":34286.586},"y":{"datum":6.254}}},
    {"data":{"values":[{}]},"mark":{"type":"text","text":"+","fontSize":9,"align":"left","baseline":"alphabetic","font":"Liberation Sans","color":"black"},
     "encoding":{"x":{"datum":34286.942},"y":{"datum":6.391}}},
    {"data":{"values":[{}]},"mark":{"type":"text","text":"=5)","fontSize":15,"align":"left","baseline":"alphabetic","font":"Liberation Sans","color":"black"},
     "encoding":{"x":{"datum":34287.104},"y":{"datum":6.254}}},
    {"data":{"values":[{}]},"mark":{"type":"rule","color":"black","strokeWidth":1.3},
     "encoding":{"x":{"datum":34287.49},"y":{"datum":6.1},"y2":{"datum":5.25}}},
    {"data":{"values":[{}]},"mark":{"type":"point","shape":"M-0.575,-1L0.575,-1L0,1Z","filled":true,"size":180,"color":"black","opacity":1},
     "encoding":{"x":{"datum":34287.49},"y":{"datum":5.12}}}
   ]}
 ],"spacing":0,"bounds":"flush"}
]
}
